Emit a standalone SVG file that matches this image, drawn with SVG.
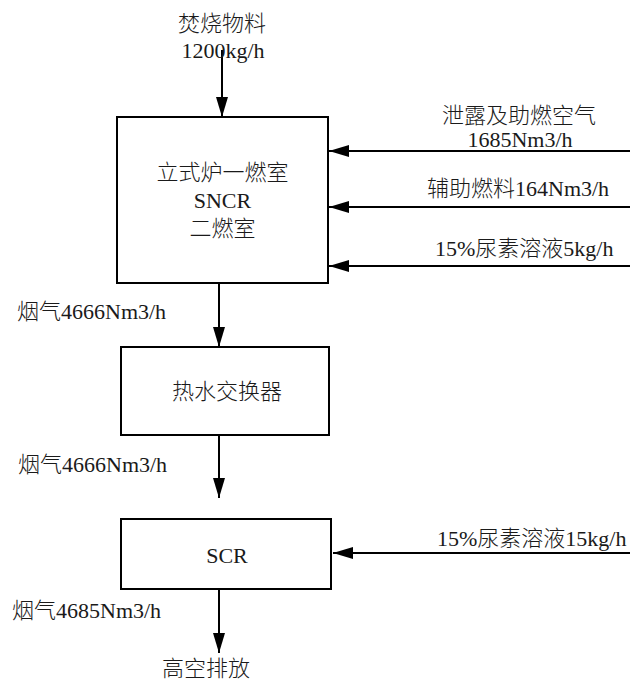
<svg xmlns="http://www.w3.org/2000/svg" width="630" height="681" viewBox="0 0 630 681">
<style>
text{font-family:"Liberation Serif","Noto Sans CJK SC",serif;font-size:22px;font-weight:300;fill:#1a1a1a}
.box{fill:#fff;stroke:#000;stroke-width:2}
.ln{stroke:#000;stroke-width:2;fill:none}
.c{text-anchor:middle}
</style>
<defs>
<marker id="ah" markerUnits="userSpaceOnUse" markerWidth="20" markerHeight="12" refX="20" refY="6" orient="auto">
<path d="M0,0 L20,6 L0,12 Z" fill="#000"/>
</marker>
</defs>
<rect width="630" height="681" fill="#fff"/>
<g id="connectors">
<line class="ln" x1="222" y1="50" x2="222" y2="117" marker-end="url(#ah)"/>
<line class="ln" x1="630" y1="151" x2="329" y2="151" marker-end="url(#ah)"/>
<line class="ln" x1="630" y1="207" x2="329" y2="207" marker-end="url(#ah)"/>
<line class="ln" x1="630" y1="266" x2="329" y2="266" marker-end="url(#ah)"/>
<line class="ln" x1="219" y1="283" x2="219" y2="347" marker-end="url(#ah)"/>
<line class="ln" x1="219" y1="435" x2="219" y2="498" marker-end="url(#ah)"/>
<line class="ln" x1="630" y1="553" x2="333" y2="553" marker-end="url(#ah)"/>
<line class="ln" x1="219" y1="589" x2="219" y2="653" marker-end="url(#ah)"/>
</g>
<g id="input-labels">
<text class="c" x="222" y="31">焚烧物料</text>
<text class="c" x="223" y="58">1200kg/h</text>
<text class="c" x="519" y="123">泄露及助燃空气</text>
<text class="c" x="520" y="147">1685Nm3/h</text>
<text x="427" y="196">辅助燃料164Nm3/h</text>
<text x="435" y="256">15%尿素溶液5kg/h</text>
<text x="437" y="546">15%尿素溶液15kg/h</text>
</g>
<g id="furnace">
<rect class="box" x="117" y="117" width="211" height="166"/>
<text class="c" x="222.5" y="180">立式炉一燃室</text>
<text class="c" x="222.5" y="208">SNCR</text>
<text class="c" x="222.5" y="236">二燃室</text>
</g>
<g id="flue1"><text x="17" y="319">烟气4666Nm3/h</text></g>
<g id="heat-exchanger">
<rect class="box" x="121" y="347" width="208" height="88"/>
<text class="c" x="227" y="399">热水交换器</text>
</g>
<g id="flue2"><text x="18" y="472">烟气4666Nm3/h</text></g>
<g id="scr">
<rect class="box" x="121" y="519" width="210" height="70"/>
<text class="c" x="227" y="563">SCR</text>
</g>
<g id="flue3"><text x="12" y="618">烟气4685Nm3/h</text></g>
<g id="stack"><text class="c" x="206" y="676">高空排放</text></g>
</svg>
